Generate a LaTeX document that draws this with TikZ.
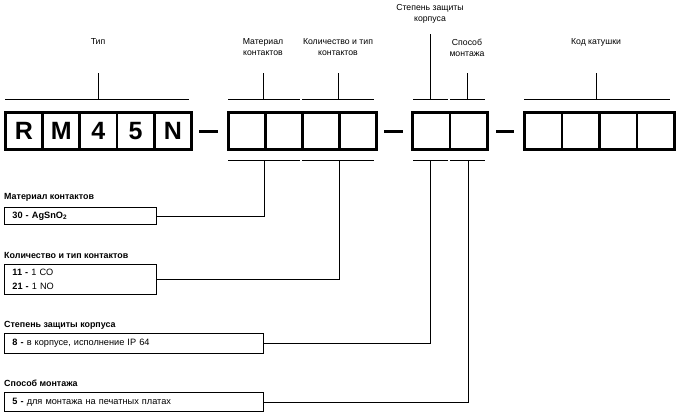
\documentclass[tikz,border=0pt]{standalone}
\usepackage{fontspec}
\setmainfont{Liberation Sans}
\begin{document}
\begin{tikzpicture}[x=1pt,y=-1pt,
  cell/.style={draw,line width=2.8pt,minimum width=37.2pt,minimum height=37pt,inner sep=0pt,anchor=north west,font=\bfseries\fontsize{25}{25}\selectfont},
  thinl/.style={line width=0.9pt},
  dashl/.style={line width=3pt},
  lbl/.style={font=\fontsize{8.7}{11}\selectfont,align=center,inner sep=0pt},
  ttl/.style={font=\bfseries\fontsize{8.9}{10}\selectfont,anchor=west,inner sep=0pt},
  opt/.style 2 args={draw,line width=0.9pt,anchor=north west,inner xsep=8pt,inner ysep=0pt,text width=#1,minimum height=#2,align=left,font=\fontsize{9.2}{14}\selectfont}
]
\useasboundingbox (0,0) rectangle (676,415);
% code cells
\foreach \t [count=\i] in {R,M,4,5,N} \node[cell] (a\i) at ({4+37.2*(\i-1)},111) {\t};
\foreach \i in {1,...,4} \node[cell,minimum width=37pt] (b\i) at ({227+37*(\i-1)},111) {};
\foreach \i in {1,2} \node[cell,minimum width=37.5pt] (c\i) at ({411+37.5*(\i-1)},111) {};
\foreach \i in {1,...,4} \node[cell,minimum width=37.5pt] (d\i) at ({523+37.5*(\i-1)},111) {};
% dashes
\draw[dashl] (199,131.5) -- (218,131.5);
\draw[dashl] (384,131.5) -- (403,131.5);
\draw[dashl] (496,131.5) -- (514,131.5);
% top labels
\node[lbl] (lt) at (98,42) {Тип};
\node[lbl] (lm) at (263,47.5) {Материал\\контактов};
\node[lbl] (lk) at (338,47.5) {Количество и тип\\контактов};
\node[lbl] (ls) at (430,13.5) {Степень защиты\\корпуса};
\node[lbl] (lp) at (467,47.5) {Способ\\монтажа};
\node[lbl] (ld) at (596,42) {Код катушки};
% top brackets
\draw[thinl] (5,99) -- (189,99);
\draw[thinl] (228,99) -- (300,99);
\draw[thinl] (302,99) -- (374,99);
\draw[thinl] (413,99) -- (448,99);
\draw[thinl] (450,99) -- (485,99);
\draw[thinl] (524,99) -- (670,99);
\coordinate (tA) at (98,99);  \coordinate (uA) at (98,73);
\coordinate (tM) at (263,99); \coordinate (uM) at (263,73);
\coordinate (tK) at (338,99); \coordinate (uK) at (338,73);
\coordinate (tS) at (430,99); \coordinate (uS) at (430,34);
\coordinate (tP) at (467,99); \coordinate (uP) at (467,73);
\coordinate (tD) at (596,99); \coordinate (uD) at (596,73);
\foreach \n in {A,M,K,S,P,D} \draw[thinl] (u\n) -- (t\n);
% bottom brackets
\draw[thinl] (228,160) -- (300,160);
\draw[thinl] (302,160) -- (374,160);
\draw[thinl] (413,160) -- (448,160);
\draw[thinl] (450,160) -- (485,160);
\coordinate (bM) at (264,160);
\coordinate (bK) at (339,160);
\coordinate (bS) at (430,160);
\coordinate (bP) at (468,160);
% option titles
\node[ttl] (tm) at (4,197) {Материал контактов};
\node[ttl] (tk) at (4,255) {Количество и тип контактов};
\node[ttl] (ts) at (4,325) {Степень защиты корпуса};
\node[ttl] (tp) at (4,383) {Способ монтажа};
% option boxes
\node[opt={136pt}{17pt}] (om) at (4,207) {\textbf{30 - AgSnO\textsubscript{2}}};
\node[opt={136pt}{30pt}] (ok) at (4,264) {\textbf{11 -} 1 CO\\\textbf{21 -} 1 NO};
\node[opt={243pt}{20pt}] (os) at (4,333) {\textbf{8 -} в корпусе, исполнение IP 64};
\node[opt={243pt}{19pt}] (op) at (4,392) {\textbf{5 -} для монтажа на печатных платах};
% connectors
\draw[thinl] (bM) |- (om.east);
\draw[thinl] (bK) |- (ok.east);
\draw[thinl] (bS) |- (os.east);
\draw[thinl] (bP) |- (op.east);
\end{tikzpicture}
\end{document}
